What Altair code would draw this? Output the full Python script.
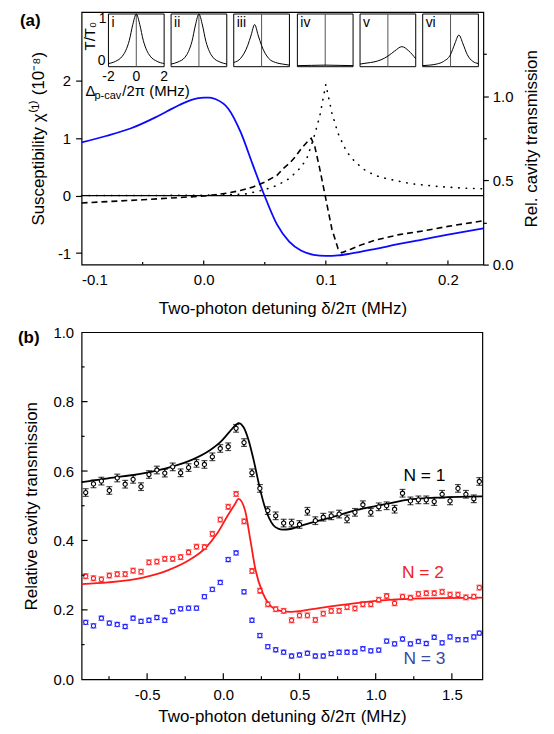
import altair as alt
import pandas as pd

FONT = "Liberation Sans"
TICK_FS = 15
TITLE_FS = 17

# ---------------- Panel (a) data ----------------
chi_x = [-0.1, -0.08, -0.06, -0.04, -0.03, -0.02, -0.01, 0.0, 0.005, 0.01, 0.02, 0.03, 0.04,
         0.05, 0.06, 0.07, 0.08, 0.09, 0.1, 0.11, 0.12, 0.14, 0.16, 0.18, 0.2, 0.229]
chi_y = [0.93, 1.04, 1.17, 1.36, 1.47, 1.58, 1.67, 1.71, 1.71, 1.68, 1.52, 1.12, 0.55,
         -0.01, -0.50, -0.80, -0.96, -1.03, -1.05, -1.04, -1.01, -0.93, -0.84, -0.76, -0.68, -0.57]

dash_x = [-0.1, -0.05, 0.0, 0.02, 0.03, 0.04, 0.05, 0.06, 0.065, 0.07, 0.075, 0.08, 0.085, 0.088,
          0.091, 0.095, 0.1, 0.105, 0.11, 0.113, 0.12, 0.13, 0.14, 0.16, 0.18, 0.2, 0.229]
dash_t = [0.366, 0.385, 0.407, 0.425, 0.44, 0.46, 0.49, 0.53, 0.57, 0.60, 0.64, 0.69, 0.73, 0.75,
          0.70, 0.57, 0.39, 0.21, 0.095, 0.07, 0.09, 0.12, 0.144, 0.178, 0.20, 0.227, 0.26]

dot_x = [-0.1, -0.05, 0.0, 0.02, 0.035, 0.05, 0.06, 0.07, 0.08, 0.085, 0.09, 0.095, 0.1, 0.105,
         0.11, 0.115, 0.12, 0.13, 0.14, 0.15, 0.17, 0.19, 0.21, 0.229]
dot_t = [0.41, 0.41, 0.412, 0.415, 0.42, 0.445, 0.47, 0.51, 0.58, 0.64, 0.75, 0.88, 1.07, 0.90,
         0.78, 0.70, 0.64, 0.57, 0.53, 0.51, 0.48, 0.465, 0.455, 0.45]

zero_level = [0]

# insets (T/T0 versus probe-cavity detuning)
inset_names = ["i", "ii", "iii", "iv", "v", "vi"]
ins_x = [
    [-2, -1.5, -1, -0.75, -0.5, -0.25, 0, 0.25, 0.5, 0.75, 1, 1.5, 2],
    [-2, -1.5, -1, -0.75, -0.5, -0.25, 0, 0.25, 0.5, 0.75, 1, 1.5, 2],
    [-2, -1.5, -1, -0.75, -0.5, -0.25, 0, 0.5, 1, 1.5, 2],
    [-2, -1, 0, 1, 2],
    [-2, -1.5, -1, -0.5, 0, 0.5, 1, 1.5, 2],
    [-2, -1.5, -1, -0.5, 0, 0.3, 0.6, 0.9, 1.2, 1.6, 2],
]
ins_y = [
    [0.06, 0.10, 0.20, 0.31, 0.50, 0.80, 1.0, 0.80, 0.50, 0.31, 0.20, 0.10, 0.06],
    [0.05, 0.09, 0.18, 0.29, 0.48, 0.79, 1.0, 0.79, 0.48, 0.29, 0.18, 0.09, 0.05],
    [0.08, 0.16, 0.40, 0.60, 0.80, 0.60, 0.40, 0.16, 0.08, 0.05, 0.03],
    [0.02, 0.025, 0.03, 0.025, 0.02],
    [0.05, 0.07, 0.09, 0.13, 0.20, 0.30, 0.38, 0.30, 0.15],
    [0.02, 0.03, 0.05, 0.10, 0.23, 0.43, 0.60, 0.43, 0.23, 0.10, 0.06],
]

# ---------------- Panel (b) data ----------------
b_x = [-0.903, -0.852, -0.800, -0.748, -0.696, -0.644, -0.592, -0.540, -0.488, -0.436, -0.384,
       -0.332, -0.280, -0.228, -0.176, -0.124, -0.072, -0.020, 0.032, 0.084, 0.136, 0.188, 0.240,
       0.292, 0.344, 0.396, 0.448, 0.500, 0.552, 0.604, 0.656, 0.708, 0.760, 0.812, 0.864, 0.916,
       0.968, 1.020, 1.072, 1.124, 1.176, 1.228, 1.280, 1.332, 1.384, 1.436, 1.488, 1.540, 1.592,
       1.644, 1.680]
n1_y = [0.538, 0.563, 0.571, 0.544, 0.580, 0.562, 0.576, 0.555, 0.590, 0.603, 0.594, 0.612, 0.595,
        0.610, 0.622, 0.619, 0.641, 0.665, 0.670, 0.723, 0.682, 0.595, 0.550, 0.486, 0.471, 0.450,
        0.450, 0.446, 0.484, 0.457, 0.467, 0.471, 0.476, 0.462, 0.481, 0.503, 0.481, 0.497, 0.500,
        0.490, 0.536, 0.514, 0.517, 0.517, 0.512, 0.533, 0.514, 0.550, 0.533, 0.520, 0.570]
n2_y = [0.297, 0.291, 0.288, 0.299, 0.303, 0.303, 0.313, 0.310, 0.337, 0.339, 0.347, 0.347, 0.352,
        0.366, 0.382, 0.381, 0.419, 0.460, 0.497, 0.534, 0.455, 0.312, 0.255, 0.216, 0.202, 0.197,
        0.170, 0.184, 0.184, 0.171, 0.189, 0.197, 0.197, 0.208, 0.204, 0.216, 0.216, 0.229, 0.240,
        0.219, 0.238, 0.235, 0.246, 0.248, 0.248, 0.252, 0.244, 0.244, 0.236, 0.238, 0.264]
n3_y = [0.164, 0.154, 0.176, 0.162, 0.158, 0.152, 0.176, 0.167, 0.170, 0.178, 0.170, 0.195, 0.203,
        0.205, 0.205, 0.238, 0.259, 0.279, 0.345, 0.364, 0.252, 0.170, 0.126, 0.094, 0.085, 0.078,
        0.067, 0.070, 0.075, 0.067, 0.067, 0.074, 0.078, 0.078, 0.078, 0.088, 0.082, 0.084, 0.110,
        0.102, 0.116, 0.102, 0.109, 0.103, 0.121, 0.105, 0.122, 0.114, 0.114, 0.122, 0.133]
n_err = [0.011, 0.007, 0.006]

fit1_x = [-0.93, -0.757, -0.527, -0.342, -0.203, -0.088, -0.018, 0.039, 0.085, 0.10, 0.132, 0.166,
          0.20, 0.24, 0.27, 0.30, 0.33, 0.36, 0.39, 0.44, 0.513, 0.628, 0.744, 0.859, 0.975, 1.09,
          1.206, 1.436, 1.70]
fit1_y = [0.568, 0.579, 0.593, 0.612, 0.633, 0.660, 0.684, 0.712, 0.734, 0.738, 0.727, 0.689,
          0.63, 0.55, 0.50, 0.465, 0.443, 0.434, 0.431, 0.433, 0.443, 0.457, 0.471, 0.486, 0.497,
          0.507, 0.517, 0.524, 0.527]
fit2_x = [-0.93, -0.757, -0.527, -0.365, -0.226, -0.111, -0.042, 0.028, 0.074, 0.10, 0.143, 0.178,
          0.212, 0.259, 0.305, 0.374, 0.443, 0.513, 0.628, 0.859, 1.09, 1.321, 1.70]
fit2_y = [0.274, 0.279, 0.293, 0.314, 0.343, 0.381, 0.419, 0.471, 0.503, 0.52, 0.486, 0.40, 0.314,
          0.248, 0.214, 0.197, 0.194, 0.197, 0.205, 0.219, 0.229, 0.233, 0.235]

n_labels = ["N = 1", "N = 2", "N = 3"]
n_label_x = [1.32, 1.31, 1.32]
n_label_y = [0.585, 0.305, 0.057]
n_colors = ["black", "#ff1a1a", "#1a1aff"]
n_label_colors = ["black", "#ee2222", "#3b48a0"]

# ---------------- layout constants ----------------
WA, HA = 404, 254
WB, HB = 403, 349
INSET_LEFT = [27, 90, 153, 217, 280, 343]
INSET_W = 56
INSET_TOP, INSET_BOTTOM = 2, 55

# ---------------- Panel (a) ----------------
xa = alt.Scale(domain=[-0.1, 0.229], nice=False, zero=False)
ya_l = alt.Scale(domain=[-1.2, 3.2], nice=False, zero=False)
ya_r = alt.Scale(domain=[0, 1.5], nice=False, zero=False)

xaxis_a = alt.Axis(values=[-0.1, 0.0, 0.1, 0.2], tickSize=0, labelPadding=8,
                   labelExpr="datum.value < 0 ? '-' + format(-datum.value, '.1f') : format(datum.value, '.1f')",
                   title="Two-photon detuning \u03b4/2\u03c0 (MHz)", titlePadding=13, domain=False)
yaxis_l = alt.Axis(values=[-1, 0, 1, 2], tickSize=6, labelPadding=5,
                   labelExpr="datum.value < 0 ? '-' + format(-datum.value, 'd') : format(datum.value, 'd')",
                   title="Susceptibility \u03c7\u207d\u00b9\u207e (10\u207b\u2078)", titlePadding=10,
                   domain=False)
yaxis_r = alt.Axis(orient="right", values=[0, 0.25, 0.5, 0.75, 1.0, 1.25],
                   labelExpr="(round(datum.value*100) % 50 == 0) ? format(datum.value, '.1f') : ''",
                   tickSize={"condition": {"test": "round(datum.value*100) % 50 == 0", "value": 5}, "value": 3},
                   labelPadding=4, title="Rel. cavity transmission", titleAngle=270,
                   titlePadding=28, domain=False)

df_chi = pd.DataFrame({"x": chi_x, "y": chi_y})
df_dash = pd.DataFrame({"x": dash_x, "t": dash_t})
df_dot = pd.DataFrame({"x": dot_x, "t": dot_t})

zero = alt.Chart(pd.DataFrame({"v": zero_level})).mark_rule(color="black", strokeWidth=1.2).encode(
    y=alt.Y("v:Q", scale=ya_l, axis=yaxis_l))
blue = alt.Chart(df_chi).mark_line(color="#0a0aff", strokeWidth=1.8, interpolate="monotone").encode(
    x=alt.X("x:Q", scale=xa, axis=xaxis_a), y=alt.Y("y:Q", scale=ya_l, axis=yaxis_l))

xa_major = [0.0, 0.1, 0.2]
xa_minor = [-0.05, 0.05, 0.15]
tick_a_major = alt.Chart(pd.DataFrame({"v": xa_major})).mark_rule(color="black", strokeWidth=1.2).encode(
    x=alt.X("v:Q", scale=xa, axis=xaxis_a), y=alt.value(HA), y2=alt.value(HA - 4))
tick_a_minor = alt.Chart(pd.DataFrame({"v": xa_minor})).mark_rule(color="black", strokeWidth=1.2).encode(
    x=alt.X("v:Q", scale=xa, axis=xaxis_a), y=alt.value(HA), y2=alt.value(HA - 2.5))
label_a = alt.Chart(pd.DataFrame({"t": ["(a)"]})).mark_text(
    font=FONT, fontSize=17, fontWeight="bold", align="left", baseline="middle").encode(
    text="t:N", x=alt.value(-62), y=alt.value(9))

dashed = alt.Chart(df_dash).mark_line(color="black", strokeWidth=1.6, strokeDash=[6, 4]).encode(
    x=alt.X("x:Q", scale=xa, axis=xaxis_a), y=alt.Y("t:Q", scale=ya_r, axis=yaxis_r))
dotted = alt.Chart(df_dot).mark_line(color="black", strokeWidth=1.6, strokeDash=[0.5, 7],
                                    strokeCap="round").encode(
    x=alt.X("x:Q", scale=xa, axis=xaxis_a), y=alt.Y("t:Q", scale=ya_r, axis=yaxis_r))

main_left = alt.layer(zero, blue, tick_a_major, tick_a_minor, label_a)
main_right = alt.layer(dotted, dashed)
main_a = alt.layer(main_left, main_right).resolve_scale(y="independent")


def make_inset(k):
    x0 = INSET_LEFT[k]
    xs = alt.Scale(domain=[-2, 2], range=[x0, x0 + INSET_W], nice=False, zero=False)
    ys = alt.Scale(domain=[0, 1], range=[INSET_BOTTOM, INSET_TOP], nice=False, zero=False)

    def X(f):
        return alt.X(f, scale=xs, axis=None)

    def Y(f):
        return alt.Y(f, scale=ys, axis=None)

    frame = alt.Chart(pd.DataFrame({"x1": [-2], "x2": [2], "y1": [0], "y2": [1]})).mark_rect(
        fill="white", fillOpacity=0, stroke="black", strokeWidth=1).encode(
        x=X("x1:Q"), x2="x2:Q", y=Y("y1:Q"), y2="y2:Q")
    vline = alt.Chart(pd.DataFrame({"x": [0], "y1": [0], "y2": [1]})).mark_rule(
        color="#555555", strokeWidth=1).encode(x=X("x:Q"), y=Y("y1:Q"), y2="y2:Q")
    curve = alt.Chart(pd.DataFrame({"x": ins_x[k], "y": ins_y[k]})).mark_line(
        color="black", strokeWidth=1, interpolate="monotone").encode(x=X("x:Q"), y=Y("y:Q"))
    name = alt.Chart(pd.DataFrame({"x": [-2], "y": [1], "t": [inset_names[k]]})).mark_text(
        font=FONT, fontSize=14, align="left", baseline="top", dx=3, dy=2).encode(
        x=X("x:Q"), y=Y("y:Q"), text="t:N")
    layers = [frame, vline, curve, name]
    if k == 0:
        ytop = alt.Chart(pd.DataFrame({"x": [-2], "y": [1], "t": ["1"]})).mark_text(
            font=FONT, fontSize=14, align="right", baseline="top", dx=-2, dy=-2).encode(
            x=X("x:Q"), y=Y("y:Q"), text="t:N")
        ybot = alt.Chart(pd.DataFrame({"x": [-2], "y": [0], "t": ["0"]})).mark_text(
            font=FONT, fontSize=14, align="right", baseline="middle", dx=-3, dy=-6).encode(
            x=X("x:Q"), y=Y("y:Q"), text="t:N")
        xlab = alt.Chart(pd.DataFrame({"x": [-2, 0, 2], "y": [0, 0, 0], "t": ["-2", "0", "2"]})).mark_text(
            font=FONT, fontSize=14, align="center", baseline="top", dy=3).encode(
            x=X("x:Q"), y=Y("y:Q"), text="t:N")
        ytitle = alt.Chart(pd.DataFrame({"x": [-2], "y": [0.58], "t": ["T/T\u2080"]})).mark_text(
            font=FONT, fontSize=15, angle=270, align="center", baseline="middle", dy=-19).encode(
            x=X("x:Q"), y=Y("y:Q"), text="t:N")
        xt1 = alt.Chart(pd.DataFrame({"x": [-2], "y": [0], "t": ["\u0394"]})).mark_text(
            font=FONT, fontSize=15, align="left", baseline="middle", dx=-23, dy=24).encode(
            x=X("x:Q"), y=Y("y:Q"), text="t:N")
        xt2 = alt.Chart(pd.DataFrame({"x": [-2], "y": [0], "t": ["p-cav"]})).mark_text(
            font=FONT, fontSize=11, align="left", baseline="middle", dx=-14, dy=29).encode(
            x=X("x:Q"), y=Y("y:Q"), text="t:N")
        xt3 = alt.Chart(pd.DataFrame({"x": [-2], "y": [0], "t": ["/2\u03c0 (MHz)"]})).mark_text(
            font=FONT, fontSize=15, align="left", baseline="middle", dx=14, dy=24).encode(
            x=X("x:Q"), y=Y("y:Q"), text="t:N")
        layers += [ytop, ybot, xlab, ytitle, xt1, xt2, xt3]
    return alt.layer(*layers)


panel_a = alt.layer(main_a, *[make_inset(k) for k in range(6)]).resolve_scale(
    x="independent", y="independent").properties(width=WA, height=HA)

# ---------------- Panel (b) ----------------
xb = alt.Scale(domain=[-0.93, 1.70], nice=False, zero=False)
yb = alt.Scale(domain=[0, 1.0], nice=False, zero=False)
xaxis_b = alt.Axis(values=[-0.5, 0.0, 0.5, 1.0, 1.5], tickSize=0, labelPadding=8,
                   labelExpr="datum.value < 0 ? '-' + format(-datum.value, '.1f') : format(datum.value, '.1f')",
                   title="Two-photon detuning \u03b4/2\u03c0 (MHz)", titlePadding=6, domain=False)
yaxis_b = alt.Axis(values=[0, 0.2, 0.4, 0.6, 0.8, 1.0], tickSize=0, labelPadding=8, format=".1f",
                   title="Relative cavity transmission", titlePadding=12, domain=False)

b_layers = []
for y_list, err, col in zip([n1_y, n2_y, n3_y], n_err, n_colors):
    df = pd.DataFrame({"x": b_x, "y": y_list})
    df["lo"] = df["y"] - err
    df["hi"] = df["y"] + err
    base = alt.Chart(df)
    bar = base.mark_rule(color=col, strokeWidth=1.2).encode(
        x=alt.X("x:Q", scale=xb, axis=xaxis_b), y=alt.Y("lo:Q", scale=yb, axis=yaxis_b), y2="hi:Q")
    cap_lo = base.mark_tick(color=col, orient="horizontal", size=6, thickness=1.2).encode(
        x=alt.X("x:Q", scale=xb, axis=xaxis_b), y=alt.Y("lo:Q", scale=yb, axis=yaxis_b))
    cap_hi = base.mark_tick(color=col, orient="horizontal", size=6, thickness=1.2).encode(
        x=alt.X("x:Q", scale=xb, axis=xaxis_b), y=alt.Y("hi:Q", scale=yb, axis=yaxis_b))
    pts = base.mark_point(shape="circle", stroke=col, fill="white", fillOpacity=1, size=18,
                          strokeWidth=1.1, opacity=1).encode(
        x=alt.X("x:Q", scale=xb, axis=xaxis_b), y=alt.Y("y:Q", scale=yb, axis=yaxis_b))
    b_layers += [bar, cap_lo, cap_hi, pts]

fit1 = alt.Chart(pd.DataFrame({"x": fit1_x, "y": fit1_y})).mark_line(
    color="black", strokeWidth=1.8, interpolate="monotone").encode(
    x=alt.X("x:Q", scale=xb, axis=xaxis_b), y=alt.Y("y:Q", scale=yb, axis=yaxis_b))
fit2 = alt.Chart(pd.DataFrame({"x": fit2_x, "y": fit2_y})).mark_line(
    color="#ff1a1a", strokeWidth=1.8, interpolate="monotone").encode(
    x=alt.X("x:Q", scale=xb, axis=xaxis_b), y=alt.Y("y:Q", scale=yb, axis=yaxis_b))

lab_df = pd.DataFrame({"x": n_label_x, "y": n_label_y, "t": n_labels, "c": n_label_colors})
nlab = alt.Chart(lab_df).mark_text(font=FONT, fontSize=17.5, align="center", baseline="middle").encode(
    x=alt.X("x:Q", scale=xb, axis=xaxis_b), y=alt.Y("y:Q", scale=yb, axis=yaxis_b),
    text="t:N", color=alt.Color("c:N", scale=None))

xb_major = [-0.5, 0.0, 0.5, 1.0, 1.5]
xb_minor = [-0.75, -0.25, 0.25, 0.75, 1.25]
yb_major = [0.2, 0.4, 0.6, 0.8]
yb_minor = [0.1, 0.3, 0.5, 0.7, 0.9]
tbx1 = alt.Chart(pd.DataFrame({"v": xb_major})).mark_rule(color="black", strokeWidth=1.2).encode(
    x=alt.X("v:Q", scale=xb, axis=xaxis_b), y=alt.value(HB), y2=alt.value(HB - 6))
tbx2 = alt.Chart(pd.DataFrame({"v": xb_minor})).mark_rule(color="black", strokeWidth=1.2).encode(
    x=alt.X("v:Q", scale=xb, axis=xaxis_b), y=alt.value(HB), y2=alt.value(HB - 3))
tby1 = alt.Chart(pd.DataFrame({"v": yb_major})).mark_rule(color="black", strokeWidth=1.2).encode(
    y=alt.Y("v:Q", scale=yb, axis=yaxis_b), x=alt.value(0), x2=alt.value(6))
tby2 = alt.Chart(pd.DataFrame({"v": yb_minor})).mark_rule(color="black", strokeWidth=1.2).encode(
    y=alt.Y("v:Q", scale=yb, axis=yaxis_b), x=alt.value(0), x2=alt.value(3))
label_b = alt.Chart(pd.DataFrame({"t": ["(b)"]})).mark_text(
    font=FONT, fontSize=17, fontWeight="bold", align="left", baseline="middle").encode(
    text="t:N", x=alt.value(-64), y=alt.value(6))

panel_b = alt.layer(fit1, fit2, *b_layers, nlab, tbx1, tbx2, tby1, tby2, label_b).properties(
    width=WB, height=HB)

chart = alt.vconcat(panel_a, panel_b, spacing=7).properties(
    padding={"left": 9, "top": 1, "right": 5, "bottom": 5}
).configure_view(stroke="black", strokeWidth=1.2).configure_axis(
    labelFont=FONT, titleFont=FONT, labelFontSize=TICK_FS, titleFontSize=TITLE_FS,
    titleFontWeight="normal", labelColor="black", titleColor="black", tickColor="black",
    tickWidth=1.2, grid=False)

chart.save("out.html", embed_options={"renderer": "svg", "actions": False})
